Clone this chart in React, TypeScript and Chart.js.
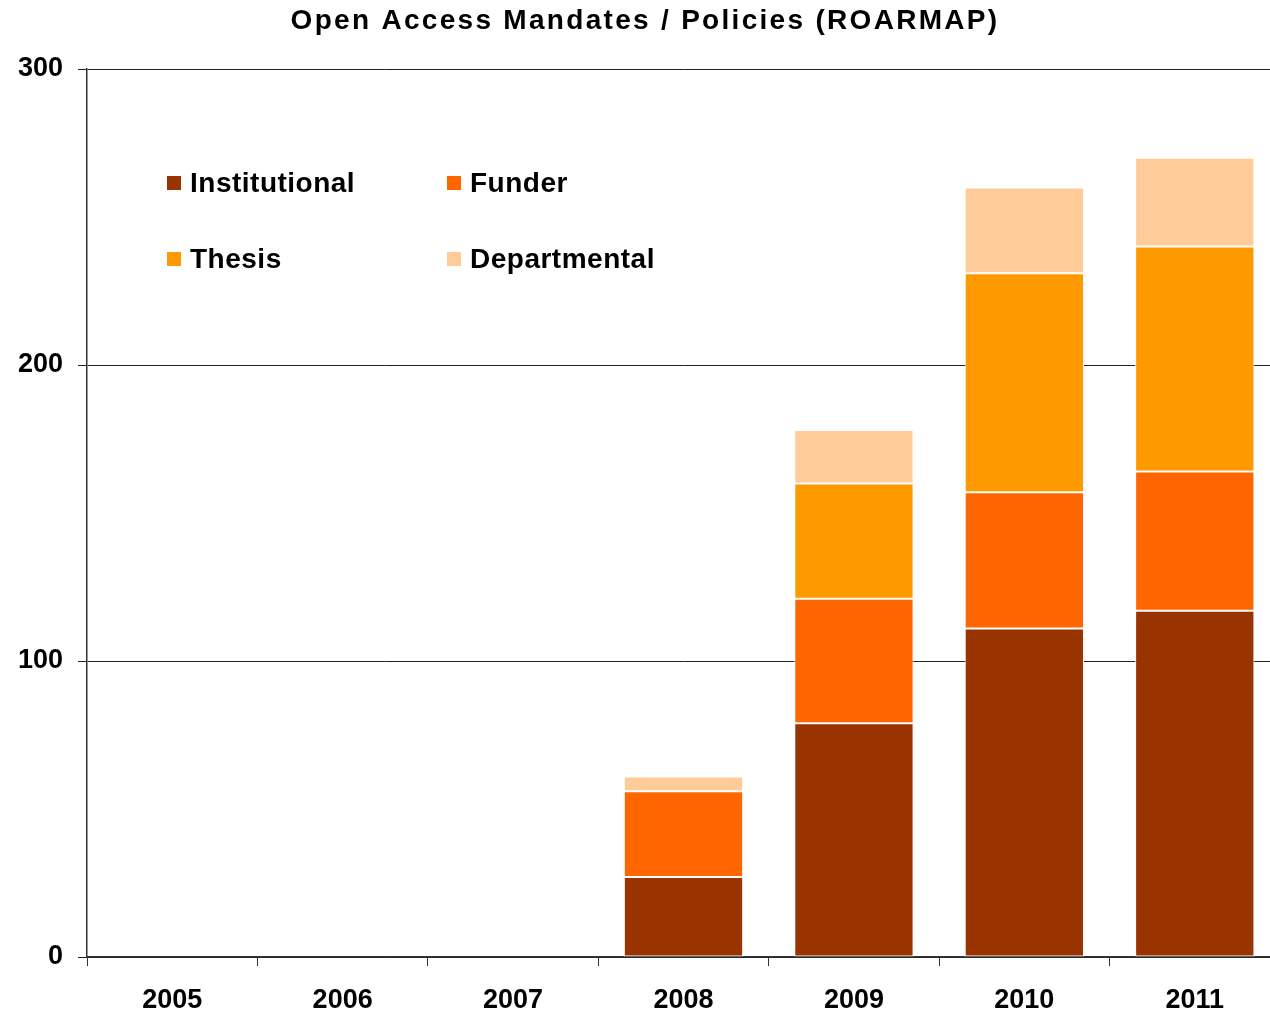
import React, { useEffect, useRef } from "react";
import { Chart, registerables } from "chart.js";

Chart.register(...registerables);

const title = "Open Access Mandates / Policies (ROARMAP)";
const categories = ["2005", "2006", "2007", "2008", "2009", "2010", "2011"];
const institutional = [0, 0, 0, 27, 79, 111, 117];
const funder = [0, 0, 0, 29, 42, 46, 47];
const thesis = [0, 0, 0, 0, 39, 74, 76];
const departmental = [0, 0, 0, 5, 18, 29, 30];
const yTicks = [0, 100, 200, 300];

const seriesNames = ["Institutional", "Funder", "Thesis", "Departmental"];
const seriesColors = ["#993300", "#FF6600", "#FF9900", "#FFCC99"];

const FONT = "'Liberation Sans', Arial, sans-serif";

const overlayPlugin = {
  id: "overlay",
  afterDraw(chart: any) {
    const ctx = chart.ctx as CanvasRenderingContext2D;
    ctx.save();
    // title
    ctx.fillStyle = "#000";
    ctx.font = `bold 28px ${FONT}`;
    (ctx as any).letterSpacing = "2.3px";
    ctx.textAlign = "center";
    ctx.textBaseline = "middle";
    ctx.fillText(title, 645, 21);
    (ctx as any).letterSpacing = "0.5px";
    // legend
    const pos = [
      [167, 183],
      [447, 183],
      [167, 259],
      [447, 259],
    ];
    ctx.textAlign = "left";
    seriesNames.forEach((name, i) => {
      const [x, y] = pos[i];
      ctx.fillStyle = seriesColors[i];
      ctx.fillRect(x, y - 7, 14, 14);
      ctx.fillStyle = "#000";
      ctx.font = `bold 28px ${FONT}`;
      ctx.fillText(name, x + 23, y + 1);
    });
    ctx.restore();
  },
};

export default function App() {
  const ref = useRef<HTMLCanvasElement | null>(null);
  useEffect(() => {
    document.body.style.margin = "0";
    const values = [institutional, funder, thesis, departmental];
    const chart = new Chart(ref.current as HTMLCanvasElement, {
      type: "bar",
      data: {
        labels: categories,
        datasets: seriesNames.map((name, i) => ({
          label: name,
          data: values[i],
          backgroundColor: seriesColors[i],
          borderColor: "#FFFFFF",
          borderWidth: 1,
          borderSkipped: false,
          categoryPercentage: 1,
          barPercentage: 0.7,
        })),
      },
      options: {
        responsive: false,
        animation: false,
        layout: { padding: { top: 69, left: 0, right: 0, bottom: 0 } },
        plugins: {
          legend: { display: false },
          title: { display: false },
          tooltip: { enabled: false },
        },
        scales: {
          x: {
            stacked: true,
            offset: true,
            grid: {
              offset: true,
              drawOnChartArea: false,
              drawTicks: true,
              tickLength: 9,
              color: "#333",
            },
            border: { display: true, color: "#333", width: 1.5 },
            ticks: {
              color: "#000",
              font: { family: FONT, size: 27, weight: "bold" },
              padding: 18,
              maxRotation: 0,
            },
            afterFit(scale: any) {
              scale.height = 55;
            },
          },
          y: {
            stacked: true,
            min: 0,
            max: 300,
            afterBuildTicks(scale: any) {
              scale.ticks = yTicks.map((v) => ({ value: v }));
            },
            grid: {
              color: "#222",
              lineWidth: 1,
              tickLength: 9,
              drawTicks: true,
            },
            border: { display: true, color: "#333", width: 1.5 },
            ticks: {
              color: "#000",
              font: { family: FONT, size: 27, weight: "bold" },
              padding: 15,
            },
            afterFit(scale: any) {
              scale.width = 87;
            },
          },
        },
      },
      plugins: [overlayPlugin],
    } as any);
    return () => chart.destroy();
  }, []);
  return (
    <div
      style={{
        position: "absolute",
        left: 0,
        top: 0,
        width: 1270,
        height: 1012,
        overflow: "hidden",
        background: "#fff",
      }}
    >
      <canvas ref={ref} width={1280} height={1012} style={{ display: "block" }} />
    </div>
  );
}
